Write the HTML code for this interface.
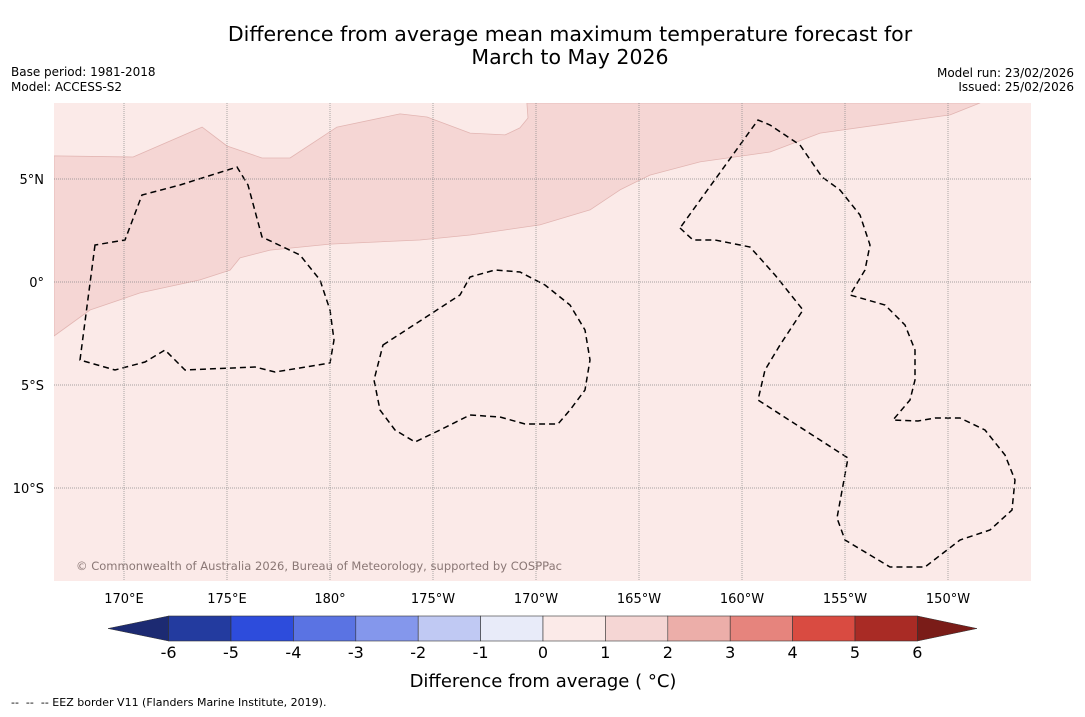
<!DOCTYPE html>
<html><head><meta charset="utf-8"><style>
body{margin:0;background:#fff;width:1085px;height:713px;overflow:hidden;font-family:"DejaVu Sans","Liberation Sans",sans-serif;}
</style></head><body>
<svg width="1085" height="713" xmlns="http://www.w3.org/2000/svg" font-family="DejaVu Sans, Liberation Sans, sans-serif">
<text x="570" y="41" font-size="20.5" text-anchor="middle">Difference from average mean maximum temperature forecast for</text>
<text x="570" y="64" font-size="20.5" text-anchor="middle">March to May 2026</text>
<text x="11" y="76" font-size="12">Base period: 1981-2018</text>
<text x="11" y="91" font-size="12">Model: ACCESS-S2</text>
<text x="1074" y="77" font-size="12" text-anchor="end">Model run: 23/02/2026</text>
<text x="1074" y="91" font-size="12" text-anchor="end">Issued: 25/02/2026</text>
<defs><clipPath id="mc"><rect x="54" y="103" width="977" height="478"/></clipPath></defs>
<g id="map" clip-path="url(#mc)">
<rect x="54" y="103" width="977" height="478" fill="#fbeae8"/>
</g>
<g id="axes"></g>
<text x="76" y="570" font-size="11.5" fill="#8a7775" textLength="486">© Commonwealth of Australia 2026, Bureau of Meteorology, supported by COSPPac</text>
<g id="cbar"></g>
<text x="543" y="687" font-size="18" text-anchor="middle">Difference from average ( °C)</text>
<text x="11" y="706" font-size="11" xml:space="preserve">--  --  -- EEZ border V11 (Flanders Marine Institute, 2019).</text>
</svg>
<script>
const NS="http://www.w3.org/2000/svg";
const lonTicks=[170,175,180,185,190,195,200,205,210];
const lonLabels=["170°E","175°E","180°","175°W","170°W","165°W","160°W","155°W","150°W"];
const latTicks=[5,0,-5,-10];
const latLabels=["5°N","0°","5°S","10°S"];
const cbLevels=[-6,-5,-4,-3,-2,-1,0,1,2,3,4,5,6];
const cbColors=["#233b9f","#2d4cdc","#5a73e3","#8497ec","#c0c9f3","#e8ebf9","#fbeae8","#f5d6d4","#ecaea9","#e6847d","#d94b41","#a92b25"];
// 1–2 °C anomaly region boundary (lon east, lat)
const zoneLon=[189.56,211.55,210.10,207.67,203.79,201.36,197.96,195.53,194.08,192.62,190.19,186.80,184.37,180.0,177.09,175.63,175.15,173.69,170.78,168.35,166.60,166.60,170.44,173.79,175.0,176.70,178.06,180.34,183.40,184.71,186.80,188.50,189.22,189.61];
const zoneLat=[8.69,8.69,8.11,7.77,7.23,6.31,5.83,5.19,4.47,3.50,2.77,2.28,2.04,1.84,1.55,1.17,0.58,0.10,-0.53,-1.36,-2.62,6.12,6.07,7.52,6.60,6.02,6.02,7.52,8.16,8.01,7.23,7.14,7.48,7.96];
const lx=lon=>124+(lon-170)*20.6, ly=lat=>282-lat*20.6;
function mk(t,a,p){const e=document.createElementNS(NS,t);for(const k in a)e.setAttribute(k,a[k]);(p||document.querySelector('svg')).appendChild(e);return e;}
const map=document.getElementById('map');
let d=zoneLon.map((v,i)=>(i?'L':'M')+lx(v).toFixed(1)+','+ly(zoneLat[i]).toFixed(1)).join(' ')+'Z';
const z=mk('path',{d:d,fill:'#f5d6d4',stroke:'#e2b5b2','stroke-width':0.8,'stroke-linejoin':'round'},map);


const eez=["M95,245 L80,360 L115,370 L145,362 L165,350 L185,370 L255,367 L275,372 L330,363 L334,340 L330,310 L320,280 L300,255 L262,237 L248,185 L237,167 L180,185 L142,195 L125,240 Z",
"M383,345 L460,295 L470,277 L495,270 L520,272 L545,285 L570,305 L585,330 L590,360 L585,390 L570,410 L558,424 L525,424 L500,417 L470,415 L440,430 L415,442 L395,430 L380,410 L374,380 Z",
"M680,228 L693,240 L715,240 L750,247 L775,275 L803,310 L780,345 L765,370 L758,400 L848,458 L837,518 L845,540 L890,567 L925,567 L960,540 L990,530 L1012,510 L1015,480 L1005,455 L985,430 L960,418 L935,418 L918,421 L893,420 L910,400 L915,380 L915,350 L905,325 L885,305 L850,295 L865,270 L870,245 L860,215 L840,190 L822,177 L800,145 L770,125 L758,120 Z"];
eez.forEach((p,i)=>{const e=mk('path',{d:p,fill:'none',stroke:'#000','stroke-width':1.5,'stroke-dasharray':'6,4'},map);

});
const ax=document.getElementById('axes');
lonTicks.forEach((lon,i)=>{const x=lx(lon);
const g=mk('line',{x1:x,y1:103,x2:x,y2:581,stroke:'#888','stroke-width':0.7,'stroke-dasharray':'1,1'},ax);


const t=mk('text',{x:x,y:603,'font-size':13,'text-anchor':'middle'},ax);t.textContent=lonLabels[i];

});
latTicks.forEach((lat,i)=>{const y=ly(lat);
const g=mk('line',{x1:54,y1:y,x2:1031,y2:y,stroke:'#888','stroke-width':0.7,'stroke-dasharray':'1,1'},ax);


const t=mk('text',{x:44,y:y+5,'font-size':13,'text-anchor':'end'},ax);t.textContent=latLabels[i];

});
const cb=document.getElementById('cbar');
const cx=v=>543+v*62.4, cy=616, ch=25;
mk('polygon',{points:`${cx(-6)},${cy} ${108},${cy+ch/2} ${cx(-6)},${cy+ch}`,fill:'#1c2a72',stroke:'#333','stroke-width':0.5},cb);
mk('polygon',{points:`${cx(6)},${cy} ${977},${cy+ch/2} ${cx(6)},${cy+ch}`,fill:'#7a1c18',stroke:'#333','stroke-width':0.5},cb);
cbColors.forEach((c,i)=>{const r=mk('rect',{x:cx(cbLevels[i]),y:cy,width:cx(cbLevels[i+1])-cx(cbLevels[i]),height:ch,fill:c,stroke:'#333','stroke-width':0.6},cb);

});
cbLevels.forEach(v=>{const t=mk('text',{x:cx(v),y:658,'font-size':16,'text-anchor':'middle'},cb);t.textContent=v;

});
</script>
</body></html>
